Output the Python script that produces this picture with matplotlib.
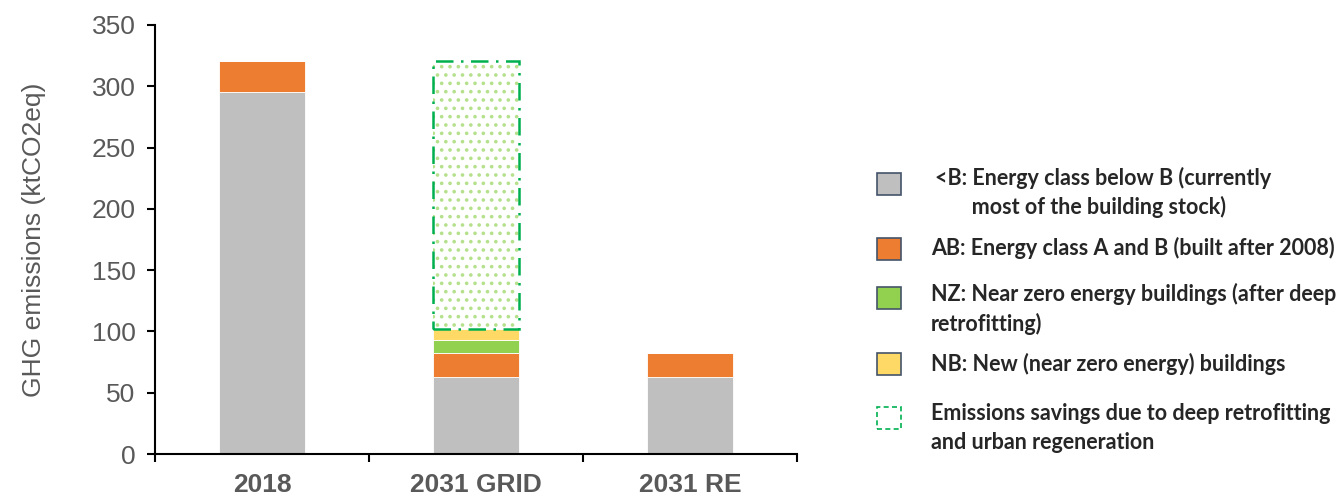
import matplotlib
matplotlib.use("Agg")
import matplotlib.pyplot as plt
from matplotlib.patches import Rectangle
import numpy as np

categories = ["2018", "2031 GRID", "2031 RE"]
below_b = [295, 63, 63]
class_ab = [26, 19, 19]
near_zero = [0, 11, 0]
new_build = [0, 9, 0]
savings = [0, 219, 0]

yticks = [0, 50, 100, 150, 200, 250, 300, 350]

legend_labels = [
    "<B: Energy class below B (currently\n       most of the building stock)",
    "AB: Energy class A and B (built after 2008)",
    "NZ: Near zero energy buildings (after deep\nretrofitting)",
    "NB: New (near zero energy) buildings",
    "Emissions savings due to deep retrofitting\nand urban regeneration",
]

c_gray = "#BFBFBF"
c_orange = "#ED7D31"
c_green = "#92D050"
c_yellow = "#FFD966"
c_dash = "#00B050"
c_dots = "#B5E08C"

plt.rcParams["hatch.linewidth"] = 1.4

fig = plt.figure(figsize=(13.44, 4.97), dpi=100)
ax = fig.add_axes([155 / 1344, 1 - 454 / 497, (797 - 155) / 1344, (454 - 25) / 497])

x = np.arange(len(categories))
w = 0.4
b0 = np.zeros(len(categories))
for vals, col in [(below_b, c_gray), (class_ab, c_orange), (near_zero, c_green), (new_build, c_yellow)]:
    v = np.array(vals, dtype=float)
    ax.bar(x, v, w, bottom=b0, color=col, edgecolor="white", linewidth=0.6, zorder=2)
    b0 = b0 + v

sv = np.array(savings, dtype=float)
mask = sv > 0
ax.bar(x[mask], sv[mask], w, bottom=b0[mask], facecolor="white", edgecolor=c_dots,
       hatch="..", linewidth=0, zorder=2)
ax.bar(x[mask], sv[mask], w, bottom=b0[mask], facecolor="none", edgecolor=c_dash,
       linewidth=1.8, linestyle=(0, (7, 3, 1, 3)), zorder=3)

ax.set_xlim(-0.5, 2.5)
ax.set_ylim(0, 350)
ax.set_yticks(yticks)
ax.set_yticklabels([str(t) for t in yticks], fontsize=19, color="#595959", family="Liberation Sans")
ax.set_xticks([-0.5, 0.5, 1.5, 2.5], minor=False)
ax.set_xticklabels([])
ax.set_xticks(x, minor=True)
ax.set_xticklabels(categories, minor=True, fontsize=19, fontweight="bold",
                   color="#595959", family="Liberation Sans")
ax.tick_params(axis="x", which="minor", length=0, pad=14)
ax.tick_params(axis="x", which="major", direction="out", length=6, width=1.5)
ax.tick_params(axis="y", direction="out", length=6, width=1.5, pad=8)
for s in ["top", "right"]:
    ax.spines[s].set_visible(False)
for s in ["left", "bottom"]:
    ax.spines[s].set_linewidth(1.5)
ax.set_ylabel("GHG emissions (ktCO2eq)", fontsize=19, color="#595959",
              family="Liberation Sans", labelpad=33)

# legend drawn in figure pixel coordinates
def px(xp, yp):
    return xp / 1344, 1 - yp / 497

sq_x0, sq_w = 877, 24
rows = [
    (184, c_gray, "#44546A", "solid", 935, 192.5),
    (249, c_orange, "#44546A", "solid", 931, 248),
    (298, c_green, "#44546A", "solid", 931, 309),
    (364, c_yellow, "#44546A", "solid", 931, 364),
    (418, "white", c_dash, (0, (3, 2)), 931, 428),
]
for (cy, fc, ec, ls, tx, ty), lab in zip(rows, legend_labels):
    x0, y0 = px(sq_x0, cy + sq_w / 2 - 1)
    fig.add_artist(Rectangle((x0, y0), sq_w / 1344, (sq_w - 2) / 497, transform=fig.transFigure,
                             facecolor=fc, edgecolor=ec, linewidth=1.2, linestyle=ls))
    tx_, ty_ = px(tx, ty)
    fig.text(tx_, ty_, lab, fontsize=15.5, fontweight="bold", color="#262626",
             family="Lato", va="center", linespacing=1.42)

fig.savefig("out.png", dpi=100)
